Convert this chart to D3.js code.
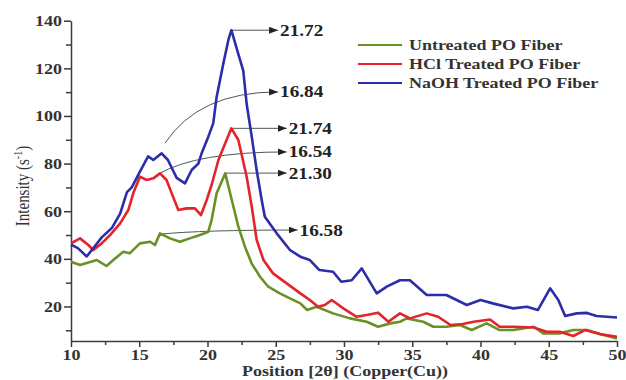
<!DOCTYPE html>
<html>
<head>
<meta charset="utf-8">
<script src="https://cdn.jsdelivr.net/npm/d3@7"></script>
<style>
  body { margin: 0; padding: 0; background: #fff; }
</style>
</head>
<body>
<script>
// XRD scans (2θ in degrees, intensity in s^-1)
const untreatedX = [10, 10.66, 11.9, 12.6, 13.1, 13.83, 14.3, 15.05, 15.8, 16.15, 16.52, 17.25, 17.98, 18.7, 19.45, 20.06, 20.3, 20.67, 21.0, 21.3, 21.9, 22.26, 22.75, 23.24, 23.85, 24.45, 25.3, 26.04, 26.8, 27.3, 28.0, 29.2, 30.44, 31.66, 32.5, 33.4, 34.1, 34.6, 35.8, 36.54, 37.5, 38.5, 39.35, 40.45, 41.4, 42.4, 43.9, 44.6, 45.8, 46.8, 47.8, 48.75, 50];
const untreatedY = [38.8, 37.4, 39.5, 37, 39.5, 43, 42.3, 46.5, 47.2, 45.8, 50.7, 48.6, 47.2, 48.6, 50, 51.4, 56.3, 67.5, 72, 75.9, 61.9, 53.5, 45, 38, 32.5, 28.3, 25.5, 23.4, 21.3, 18.5, 19.9, 17.1, 15, 13.6, 11.5, 12.9, 13.6, 15, 13.6, 11.5, 11.5, 12.2, 10.1, 12.9, 10.1, 10.1, 11.5, 8.7, 8.7, 10.1, 10.1, 8.4, 6.6];

const hclX = [10, 10.66, 11.27, 11.63, 12.25, 12.86, 13.6, 14.2, 14.56, 15.05, 15.54, 16.03, 16.52, 17.0, 17.38, 17.86, 18.47, 19.08, 19.52, 19.94, 20.3, 20.8, 21.3, 21.75, 22.26, 22.87, 23.24, 23.6, 24.1, 24.8, 25.8, 26.8, 27.5, 28.1, 28.6, 29.1, 29.95, 30.9, 31.66, 32.5, 33.25, 34.1, 34.83, 36.06, 36.9, 37.8, 38.7, 39.5, 40.7, 41.4, 42.4, 43.9, 44.85, 45.8, 46.8, 47.65, 48.75, 50];
const hclY = [46.5, 48.6, 45.8, 43.7, 46.5, 50, 54.9, 60.5, 67.5, 74.5, 73.1, 73.8, 75.9, 73.1, 67.5, 60.5, 61.2, 61.2, 58.4, 64.7, 71, 81.5, 88.5, 94.8, 89.9, 74.5, 62, 48, 39.5, 33.9, 29.7, 25.5, 22.7, 19.9, 20.6, 22.7, 19.2, 15.7, 16.4, 17.4, 13.6, 17.1, 15, 17.1, 15.7, 12.2, 12.6, 13.6, 14.5, 11.5, 11.5, 11.2, 9.4, 9.4, 7.6, 10.1, 8.4, 7.3];

const naohX = [10, 10.5, 11.15, 11.7, 12.25, 13, 13.6, 14.1, 14.45, 15.05, 15.65, 16.03, 16.64, 17.1, 17.74, 18.35, 18.84, 19.33, 19.57, 20.06, 20.42, 20.67, 21.16, 21.53, 21.75, 22.26, 22.62, 22.87, 23.24, 23.6, 23.97, 24.2, 25.07, 26.04, 26.8, 27.5, 28.2, 29.2, 29.8, 30.56, 31.3, 32.4, 33.13, 34.1, 34.83, 36.06, 37.5, 39, 40, 40.9, 42.4, 43.4, 44.2, 45.1, 45.7, 46.2, 47.05, 47.8, 48.5, 50];
const naohY = [46, 44.5, 41, 45, 49, 53, 59, 68, 70, 76.6, 83, 81.5, 84.3, 81.5, 74, 71.7, 77.3, 80, 84.3, 91.3, 96.9, 108, 122, 131.9, 136, 126, 119, 105, 91.3, 77.3, 64.7, 57.7, 50.7, 43.7, 40.9, 39.5, 35.3, 34.6, 30.4, 31, 36, 25.5, 28.3, 31, 31, 24.8, 24.8, 20.6, 22.7, 21.3, 19.2, 19.9, 18.5, 27.6, 22.7, 16, 17.1, 17.3, 16, 15.4];

const seriesNames = ["Untreated PO Fiber", "HCl Treated PO Fiber", "NaOH Treated PO Fiber"];
const seriesColors = ["#6a9125", "#e3242b", "#2d2da8"];

// peak call-outs: label, from point on the curve, to point where the arrow ends
const annLabels = ["21.72", "16.84", "21.74", "16.54", "21.30", "16.58"];
const annFromX = [21.75, 16.89, 21.75, 16.4, 21.25, 16.6];
const annFromY = [136, 88.6, 94.8, 75.6, 76, 50.4];
const annToX = [25.17, 25.17, 25.8, 25.8, 25.8, 26.6];
const annToY = [136, 110.1, 94.8, 84.9, 76, 52.1];
const annCurved = [false, true, false, true, false, true];

const xTicks = [10, 15, 20, 25, 30, 35, 40, 45, 50];
const xMinor = [12.5, 17.5, 22.5, 27.5, 32.5, 37.5, 42.5, 47.5];
const yTicks = [20, 40, 60, 80, 100, 120, 140];
const yMinor = [10, 30, 50, 70, 90, 110, 130];

const width = 626;
const height = 380;
const font = "'Liberation Serif', 'Times New Roman', serif";
const squash = 1.2; // the source picture is stretched sideways

const x = d3.scaleLinear().domain([10, 50]).range([71, 617]);
const y = d3.scaleLinear().domain([5.5, 140]).range([341, 20.7]);

const svg = d3.select("body")
  .append("svg")
  .attr("width", width)
  .attr("height", height)
  .style("background", "#fff")
  .style("font-family", font);

// move x/y of a text into a transform so it can be widened
function widen(sel, rot) {
  sel.each(function () {
    const t = d3.select(this);
    const tx = +t.attr("x") || 0;
    const ty = +t.attr("y") || 0;
    t.attr("x", null).attr("y", null)
      .attr("transform", rot
        ? `translate(${tx},${ty}) rotate(-90) scale(1,${squash})`
        : `translate(${tx},${ty}) scale(${squash},1)`);
  });
}

svg.append("defs")
  .append("marker")
  .attr("id", "arrow")
  .attr("markerUnits", "userSpaceOnUse")
  .attr("markerWidth", 10)
  .attr("markerHeight", 8)
  .attr("refX", 9)
  .attr("refY", 3.5)
  .attr("orient", "auto")
  .append("path")
  .attr("d", "M0,0 L9,3.5 L0,7 Z")
  .attr("fill", "#222");

// axes
const axisColor = "#3c3c3c";

const gx = svg.append("g")
  .attr("transform", `translate(0,${y.range()[0]})`)
  .call(d3.axisBottom(x).tickValues(xTicks).tickSize(6).tickSizeOuter(0).tickPadding(3));
svg.append("g")
  .attr("transform", `translate(0,${y.range()[0]})`)
  .call(d3.axisBottom(x).tickValues(xMinor).tickSize(4).tickFormat(""))
  .call((g) => g.select(".domain").remove());

const gy = svg.append("g")
  .attr("transform", `translate(${x.range()[0]},0)`)
  .call(d3.axisLeft(y).tickValues(yTicks).tickSize(7).tickSizeOuter(0).tickPadding(2));
svg.append("g")
  .attr("transform", `translate(${x.range()[0]},0)`)
  .call(d3.axisLeft(y).tickValues(yMinor).tickSize(5).tickFormat(""))
  .call((g) => g.select(".domain").remove());

svg.selectAll(".domain, .tick line")
  .attr("stroke", axisColor)
  .attr("stroke-width", 1.5);

svg.selectAll(".tick text")
  .attr("fill", "#333")
  .style("font-family", font)
  .style("font-size", "15px")
  .style("font-weight", "bold");

gx.selectAll(".tick text").attr("y", 19).attr("dy", null).call(widen);
gy.selectAll(".tick text").attr("y", 5).attr("dy", null).call(widen);

svg.append("text")
  .attr("x", 345)
  .attr("y", 376)
  .attr("text-anchor", "middle")
  .attr("fill", "#333")
  .style("font-size", "15px")
  .style("font-weight", "bold")
  .text("Position [2θ] (Copper(Cu))")
  .call(widen);

const ylab = svg.append("text")
  .attr("x", 29)
  .attr("y", 186)
  .attr("text-anchor", "middle")
  .attr("fill", "#333")
  .style("font-size", "15px");
ylab.append("tspan").text("Intensity (s");
ylab.append("tspan").attr("dy", -6).style("font-size", "10px").text("-1");
ylab.append("tspan").attr("dy", 6).text(")");
ylab.call(widen, true);

// call-out arrows, under the curves
const ann = annLabels.map((label, i) => ({
  label,
  x0: x(annFromX[i]), y0: y(annFromY[i]),
  x1: x(annToX[i]), y1: y(annToY[i]),
  curved: annCurved[i],
}));

svg.append("g")
  .selectAll("path")
  .data(ann)
  .join("path")
  .attr("fill", "none")
  .attr("stroke", "#4b5a52")
  .attr("stroke-width", 1)
  .attr("marker-end", "url(#arrow)")
  .attr("d", (d) => {
    const p = d3.path();
    p.moveTo(d.x0, d.y0);
    if (d.curved) p.quadraticCurveTo(d.x0 + 0.3 * (d.x1 - d.x0), d.y1, d.x1, d.y1);
    else p.lineTo(d.x1, d.y1);
    return p.toString();
  });

svg.append("g")
  .selectAll("text")
  .data(ann)
  .join("text")
  .attr("x", (d) => d.x1 + 2)
  .attr("y", (d) => d.y1 + 5.5)
  .attr("fill", "#222")
  .style("font-size", "16px")
  .style("font-weight", "bold")
  .text((d) => d.label)
  .call(widen);

// curves
const series = [
  untreatedX.map((v, i) => [v, untreatedY[i]]),
  hclX.map((v, i) => [v, hclY[i]]),
  naohX.map((v, i) => [v, naohY[i]]),
];

const line = d3.line()
  .x((d) => x(d[0]))
  .y((d) => y(d[1]));

svg.append("g")
  .selectAll("path")
  .data(series)
  .join("path")
  .attr("fill", "none")
  .attr("stroke", (d, i) => seriesColors[i])
  .attr("stroke-width", 2.6)
  .attr("stroke-linejoin", "round")
  .attr("d", line);

// legend
const legend = svg.append("g")
  .selectAll("g")
  .data(seriesNames)
  .join("g")
  .attr("transform", (d, i) => `translate(358,${45 + i * 19})`);

legend.append("line")
  .attr("x1", 0)
  .attr("x2", 44)
  .attr("stroke", (d, i) => seriesColors[i])
  .attr("stroke-width", 2.2);

legend.append("text")
  .attr("x", 51)
  .attr("y", 5)
  .attr("fill", "#333")
  .style("font-size", "15px")
  .style("font-weight", "bold")
  .text((d) => d)
  .call(widen);
</script>
</body>
</html>
